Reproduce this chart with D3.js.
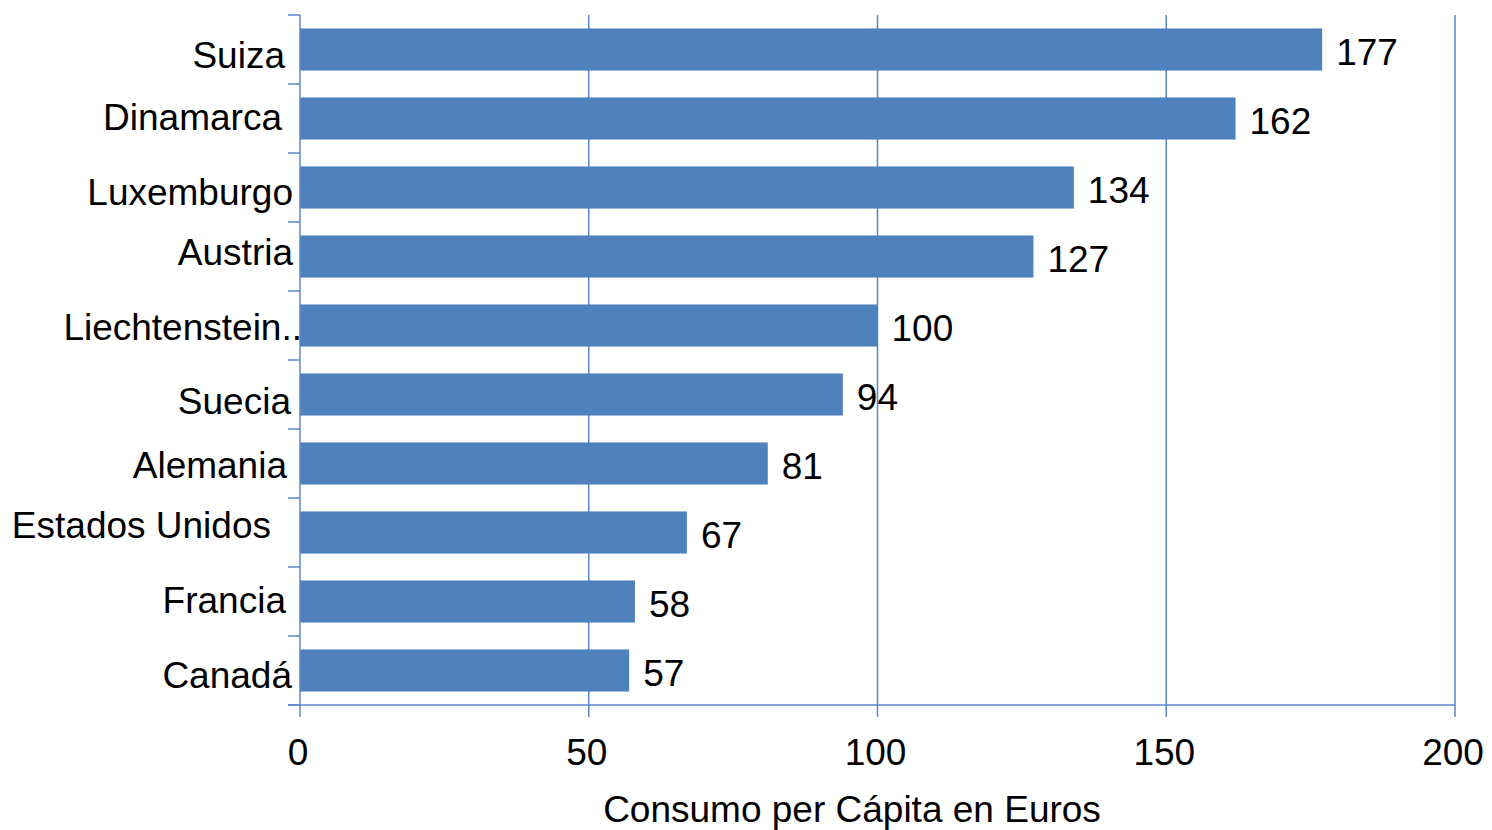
<!DOCTYPE html>
<html>
<head>
<meta charset="utf-8">
<script src="https://cdn.jsdelivr.net/npm/d3@7"></script>
<style>
  body { margin: 0; background: #fff; }
  text { font-family: "Liberation Sans", Arial, sans-serif; fill: #000; }
</style>
</head>
<body>
<div id="chart"></div>
<script>
// Datos
const paises = ["Suiza", "Dinamarca", "Luxemburgo", "Austria", "Liechtenstein..", "Suecia", "Alemania", "Estados Unidos", "Francia", "Canadá"];
const consumo = [177, 162, 134, 127, 100, 94, 81, 67, 58, 57];
const ticksX = [0, 50, 100, 150, 200];
const tituloX = "Consumo per Cápita en Euros";

// pequeños desplazamientos de las etiquetas (como en la imagen original)
const ajusteX = [-15, -18, -7, -7, 2, -9, -13, -29, -14, -8];
const ajusteY = [6, -1, 5, -4, 2, 7, 2, -7, -1, 5];

const margin = { top: 15, right: 37, bottom: 125, left: 300 },
      width = 1492 - margin.left - margin.right,
      height = 830 - margin.top - margin.bottom;

const svg = d3.select("#chart")
    .append("svg")
    .attr("width", 1492)
    .attr("height", 830)
    .append("g")
    .attr("transform", `translate(${margin.left},${margin.top})`);

const data = paises.map((p, i) => ({ pais: p, valor: consumo[i], i }));

const x = d3.scaleLinear().domain([0, 200]).range([0, width]);
const y = d3.scaleBand()
    .domain(paises)
    .range([0, height])
    .paddingInner(0.39)
    .paddingOuter(0.195);
const paso = y.step();

const azul = "#4f81bd";
const linea = "#5a88c6";
const tam = "37px";

// Líneas de cuadrícula verticales
svg.selectAll(".grid")
    .data(ticksX.slice(1))
    .enter()
    .append("line")
    .attr("x1", d => x(d)).attr("x2", d => x(d))
    .attr("y1", 0).attr("y2", height)
    .attr("stroke", linea)
    .attr("stroke-width", 1.5);

// Barras
svg.selectAll(".bar")
    .data(data)
    .enter()
    .append("rect")
    .attr("x", 0)
    .attr("y", d => y(d.pais))
    .attr("width", d => x(d.valor))
    .attr("height", y.bandwidth())
    .attr("fill", azul);

// Valores
svg.selectAll(".label")
    .data(data)
    .enter()
    .append("text")
    .attr("x", d => x(d.valor) + 14)
    .attr("y", d => y(d.pais) + y.bandwidth() / 2 + 15)
    .style("font-size", tam)
    .text(d => d.valor);

// Eje Y (línea y marcas entre categorías)
svg.append("line")
    .attr("x1", 0).attr("x2", 0)
    .attr("y1", 0).attr("y2", height)
    .attr("stroke", linea).attr("stroke-width", 1.5);

svg.selectAll(".ytick")
    .data(d3.range(paises.length + 1))
    .enter()
    .append("line")
    .attr("x1", -12).attr("x2", 0)
    .attr("y1", d => d * paso).attr("y2", d => d * paso)
    .attr("stroke", linea).attr("stroke-width", 1.5);

svg.selectAll(".ylabel")
    .data(data)
    .enter()
    .append("text")
    .attr("text-anchor", "end")
    .attr("x", d => ajusteX[d.i])
    .attr("y", d => y(d.pais) + y.bandwidth() / 2 + 12 + ajusteY[d.i])
    .style("font-size", tam)
    .text(d => d.pais);

// Eje X
svg.append("line")
    .attr("x1", -12).attr("x2", width)
    .attr("y1", height).attr("y2", height)
    .attr("stroke", linea).attr("stroke-width", 1.5);

svg.selectAll(".xtick")
    .data(ticksX)
    .enter()
    .append("line")
    .attr("x1", d => x(d)).attr("x2", d => x(d))
    .attr("y1", height).attr("y2", height + 12)
    .attr("stroke", linea).attr("stroke-width", 1.5);

svg.selectAll(".xlabel")
    .data(ticksX)
    .enter()
    .append("text")
    .attr("text-anchor", "middle")
    .attr("x", d => x(d) - 2)
    .attr("y", height + 60)
    .style("font-size", tam)
    .text(d => d);

// Título del eje X
svg.append("text")
    .attr("text-anchor", "middle")
    .attr("x", 852 - margin.left)
    .attr("y", height + 117)
    .style("font-size", tam)
    .text(tituloX);
</script>
</body>
</html>
